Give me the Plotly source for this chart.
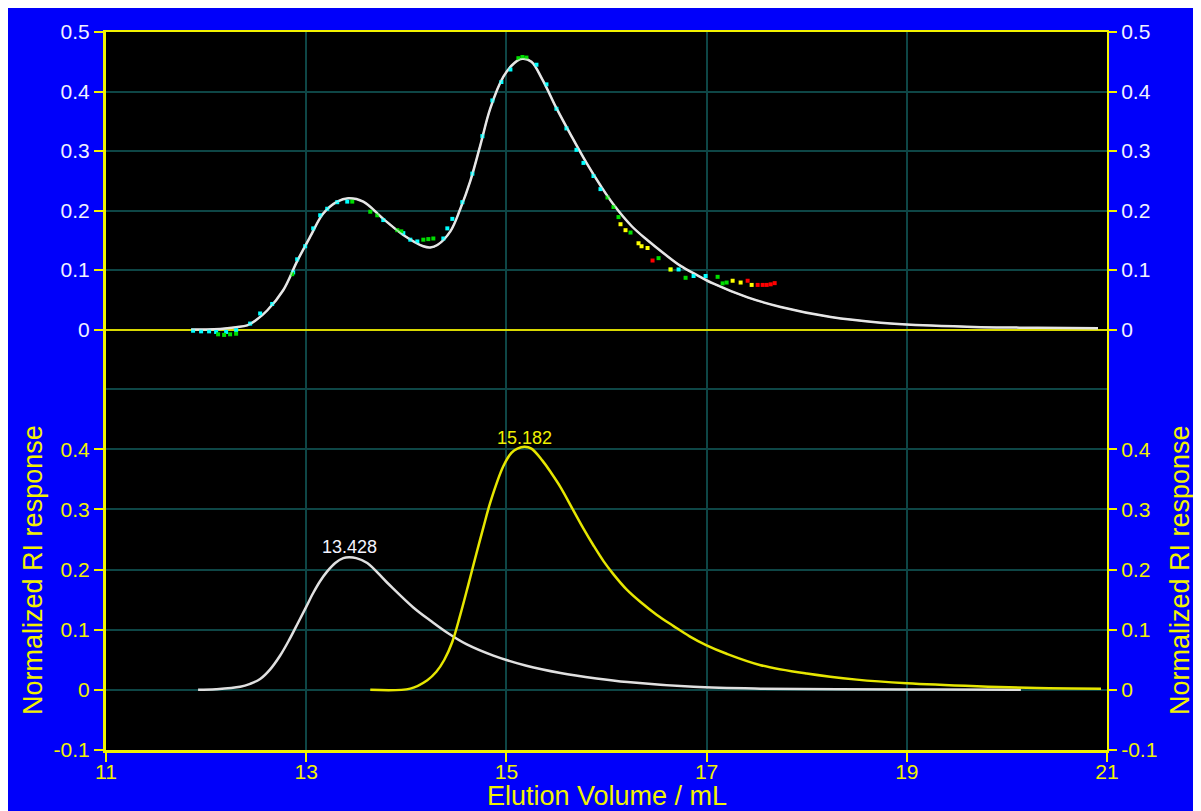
import plotly.graph_objects as go

# ---------------- data ----------------
# top panel: overall fit (white)
fit_x = [11.85, 12.0, 12.14, 12.3, 12.41, 12.5, 12.61, 12.77, 12.91, 13.04, 13.17, 13.31,
         13.42, 13.57, 13.77, 13.97, 14.17, 14.24, 14.31, 14.44, 14.54, 14.64, 14.74, 14.84,
         14.97, 15.08, 15.16, 15.25, 15.36, 15.5, 15.65, 15.8, 15.94, 16.07, 16.25, 16.41,
         16.58, 16.74, 16.9, 17.07, 17.41, 17.74, 18.24, 18.74, 19.24, 19.74, 20.3, 20.91]
fit_y = [0.0, 0.0, 0.001, 0.004, 0.007, 0.016, 0.032, 0.066, 0.115, 0.156, 0.195, 0.215,
         0.2206, 0.215, 0.186, 0.159, 0.140, 0.138, 0.142, 0.165, 0.203, 0.25, 0.31, 0.372,
         0.425, 0.448, 0.455, 0.450, 0.42, 0.372, 0.325, 0.280, 0.242, 0.210, 0.174, 0.150,
         0.127, 0.107, 0.092, 0.077, 0.054, 0.038, 0.021, 0.0116, 0.0066, 0.004, 0.003, 0.002]

# top panel: measured data points, coloured by quality
cyan_x = [11.87, 11.95, 12.03, 12.1, 12.2, 12.3, 12.44, 12.54, 12.66, 12.87, 12.91, 12.99,
          13.07, 13.14, 13.21, 13.31, 13.41, 13.77, 13.97, 14.04, 14.11, 14.37, 14.41, 14.46,
          14.56, 14.66, 14.76, 14.86, 14.95, 15.04, 15.3, 15.4, 15.5, 15.6, 15.7, 15.77,
          15.87, 15.94, 16.72, 16.87, 16.99]
cyan_y = [-0.002, -0.003, -0.003, -0.004, -0.004, -0.001, 0.010, 0.027, 0.043, 0.096, 0.118, 0.140,
          0.170, 0.192, 0.203, 0.214, 0.215, 0.184, 0.162, 0.151, 0.148, 0.153, 0.170, 0.186,
          0.214, 0.262, 0.325, 0.385, 0.416, 0.437, 0.445, 0.412, 0.371, 0.338, 0.302, 0.280,
          0.258, 0.236, 0.101, 0.090, 0.090]
green_x = [12.12, 12.18, 12.24, 12.3, 12.86, 13.46, 13.64, 13.71, 13.91, 13.95, 14.17, 14.22,
           14.27, 15.12, 15.16, 15.2, 16.01, 16.07, 16.12, 16.24, 16.52, 16.64, 16.79, 17.11,
           17.16, 17.2]
green_y = [-0.008, -0.009, -0.008, -0.007, 0.093, 0.215, 0.198, 0.192, 0.167, 0.165, 0.151, 0.152,
           0.153, 0.456, 0.458, 0.457, 0.222, 0.206, 0.189, 0.163, 0.120, 0.101, 0.087, 0.0886,
           0.0776, 0.079]
yellow_x = [16.14, 16.19, 16.32, 16.35, 16.41, 16.64, 17.26, 17.34, 17.45]
yellow_y = [0.177, 0.167, 0.145, 0.140, 0.137, 0.101, 0.082, 0.079, 0.075]
red_x = [16.46, 17.41, 17.51, 17.56, 17.6, 17.64, 17.68]
red_y = [0.116, 0.082, 0.075, 0.075, 0.075, 0.076, 0.078]

# bottom panel: deconvoluted peaks
peak1_x = [11.92, 12.1, 12.34, 12.44, 12.54, 12.64, 12.74, 12.83, 12.92, 13.0, 13.07, 13.14,
           13.21, 13.29, 13.37, 13.428, 13.5, 13.61, 13.81, 14.07, 14.25, 14.41, 14.6, 14.87,
           15.2, 15.54, 15.9, 16.21, 16.87, 17.54, 18.3, 19.2, 20.14]
peak1_y = [0.0, 0.001, 0.005, 0.010, 0.018, 0.034, 0.057, 0.083, 0.112, 0.138, 0.161, 0.181,
           0.197, 0.211, 0.219, 0.2205, 0.219, 0.211, 0.178, 0.137, 0.114, 0.095, 0.076, 0.057,
           0.040, 0.028, 0.019, 0.013, 0.005, 0.002, 0.001, 0.0005, 0.0]
peak2_x = [13.64, 14.04, 14.21, 14.3, 14.38, 14.46, 14.54, 14.62, 14.69, 14.77, 14.84, 14.97,
           15.05, 15.11, 15.182, 15.25, 15.36, 15.45, 15.54, 15.67, 15.77, 15.87, 15.97, 16.07,
           16.2, 16.34, 16.5, 16.67, 16.83, 17.0, 17.2, 17.54, 18.0, 18.5, 19.0, 19.7, 20.3, 20.94]
peak2_y = [0.0, 0.002, 0.016, 0.030, 0.050, 0.080, 0.125, 0.175, 0.220, 0.270, 0.312, 0.372,
           0.394, 0.401, 0.404, 0.401, 0.381, 0.360, 0.337, 0.298, 0.268, 0.240, 0.214, 0.192,
           0.167, 0.146, 0.125, 0.106, 0.089, 0.074, 0.060, 0.041, 0.027, 0.017, 0.011, 0.006,
           0.003, 0.002]

peak_labels = ["13.428", "15.182"]
peak_label_x = [13.428, 15.182]
peak_label_y = [0.237, 0.419]

x_ticks = [11, 13, 15, 17, 19, 21]
top_ticks = [0, 0.1, 0.2, 0.3, 0.4, 0.5]
top_tick_text = ["0", "0.1", "0.2", "0.3", "0.4", "0.5"]
bottom_ticks = [-0.1, 0, 0.1, 0.2, 0.3, 0.4]
bottom_tick_text = ["-0.1", "0", "0.1", "0.2", "0.3", "0.4"]
y_title = "Normalized RI response"
x_title = "Elution Volume / mL"

# ---------------- styling ----------------
BLUE = "#0000fa"
YEL = "#f2f200"
GRID = "#0e4646"
WHITE_TXT = "#f2f2ff"
FONT = "Arial, Liberation Sans, sans-serif"
SPLIT = 0.5027

fig = go.Figure()

# top panel traces
fig.add_trace(go.Scatter(x=fit_x, y=fit_y, mode="lines", line=dict(color="#e4e4e4", width=2.5, shape="spline"),
                         xaxis="x2", yaxis="y2", hoverinfo="skip"))
for xs, ys, c in [(cyan_x, cyan_y, "#00ffff"), (green_x, green_y, "#00dd00"),
                  (yellow_x, yellow_y, "#ffff00"), (red_x, red_y, "#ff0000")]:
    fig.add_trace(go.Scatter(x=xs, y=ys, mode="markers",
                             marker=dict(color=c, size=4, symbol="square", line=dict(width=0)),
                             xaxis="x2", yaxis="y2", hoverinfo="skip"))
fig.add_trace(go.Scatter(x=fit_x, y=fit_y, mode="lines", line=dict(color="#e8e8e8", width=1.5, shape="spline"),
                         xaxis="x2", yaxis="y2", hoverinfo="skip", opacity=0.7))

# bottom panel traces
fig.add_trace(go.Scatter(x=peak1_x, y=peak1_y, mode="lines", line=dict(color="#e0e0e0", width=2.5, shape="spline"),
                         xaxis="x", yaxis="y", hoverinfo="skip"))
fig.add_trace(go.Scatter(x=peak2_x, y=peak2_y, mode="lines", line=dict(color="#e6e600", width=2.5, shape="spline"),
                         xaxis="x", yaxis="y", hoverinfo="skip"))

# dummy traces for right-hand axes
fig.add_trace(go.Scatter(x=[None], y=[None], xaxis="x", yaxis="y3", hoverinfo="skip"))
fig.add_trace(go.Scatter(x=[None], y=[None], xaxis="x2", yaxis="y4", hoverinfo="skip"))

for t, xv, yv, col in zip(peak_labels, peak_label_x, peak_label_y, ["#f4f4ff", "#f0f000"]):
    fig.add_annotation(x=xv, y=yv, xref="x", yref="y", text=t, showarrow=False,
                       font=dict(family=FONT, size=18, color=col))

tickfont_y = dict(family=FONT, size=21, color=YEL)
tickfont_w = dict(family=FONT, size=21, color=WHITE_TXT)

fig.update_layout(
    width=1201, height=811,
    margin=dict(l=98, r=102, t=12, b=69),
    paper_bgcolor=BLUE, plot_bgcolor="black",
    showlegend=False,
    xaxis=dict(domain=[0, 1], range=[11, 21], anchor="y", tickvals=x_ticks,
               showgrid=True, gridcolor=GRID, gridwidth=2, zeroline=False,
               showline=True, linecolor=YEL, linewidth=3,
               ticks="outside", ticklen=9, tickwidth=2, tickcolor=YEL, tickfont=tickfont_y,
               ticklabelstandoff=-8),
    xaxis2=dict(domain=[0, 1], range=[11, 21], anchor="y2", matches="x", tickvals=x_ticks,
                showticklabels=False, showgrid=True, gridcolor=GRID, gridwidth=2, zeroline=False,
                side="top", showline=True, linecolor=YEL, linewidth=2, ticks=""),
    yaxis=dict(domain=[0, SPLIT], range=[-0.1, 0.5], anchor="x", tickvals=bottom_ticks,
               ticktext=bottom_tick_text,
               showgrid=True, gridcolor=GRID, gridwidth=2, zeroline=False,
               showline=True, linecolor=YEL, linewidth=3,
               ticks="outside", ticklen=9, tickwidth=2, tickcolor=YEL, tickfont=tickfont_y),
    yaxis2=dict(domain=[SPLIT, 1], range=[-0.1, 0.5], anchor="x2", tickvals=top_ticks,
                ticktext=top_tick_text,
                showgrid=True, gridcolor=GRID, gridwidth=2,
                zeroline=True, zerolinecolor="#d8d800", zerolinewidth=2,
                showline=True, linecolor=YEL, linewidth=3,
                ticks="outside", ticklen=9, tickwidth=2, tickcolor=YEL, tickfont=tickfont_w),
    yaxis3=dict(overlaying="y", side="right", anchor="x", range=[-0.1, 0.5], tickvals=bottom_ticks,
                ticktext=bottom_tick_text,
                showgrid=False, zeroline=False, showline=True, linecolor=YEL, linewidth=2,
                ticks="outside", ticklen=8, tickwidth=2, tickcolor=YEL, tickfont=tickfont_y),
    yaxis4=dict(overlaying="y2", side="right", anchor="x2", range=[-0.1, 0.5], tickvals=top_ticks,
                ticktext=top_tick_text,
                showgrid=False, zeroline=False, showline=True, linecolor=YEL, linewidth=2,
                ticks="outside", ticklen=8, tickwidth=2, tickcolor=YEL, tickfont=tickfont_w),
)

# divider between panels (teal grid line)
fig.add_shape(type="line", xref="paper", yref="paper", x0=0, x1=1, y0=SPLIT, y1=SPLIT,
              line=dict(color=GRID, width=2), layer="below")

# axis titles
fig.add_annotation(xref="paper", yref="paper", x=-0.073, y=0.2507, text=y_title, textangle=-90,
                   xanchor="center", yanchor="middle",
                   showarrow=False, font=dict(family=FONT, size=27, color=YEL))
fig.add_annotation(xref="paper", yref="paper", x=1.073, y=0.2507, text=y_title, textangle=-90,
                   xanchor="center", yanchor="middle",
                   showarrow=False, font=dict(family=FONT, size=27, color=YEL))
fig.add_annotation(xref="paper", yref="paper", x=0.5, y=-0.064, text=x_title,
                   xanchor="center", yanchor="middle",
                   showarrow=False, font=dict(family=FONT, size=27, color=YEL))

fig.write_html("out.html")
